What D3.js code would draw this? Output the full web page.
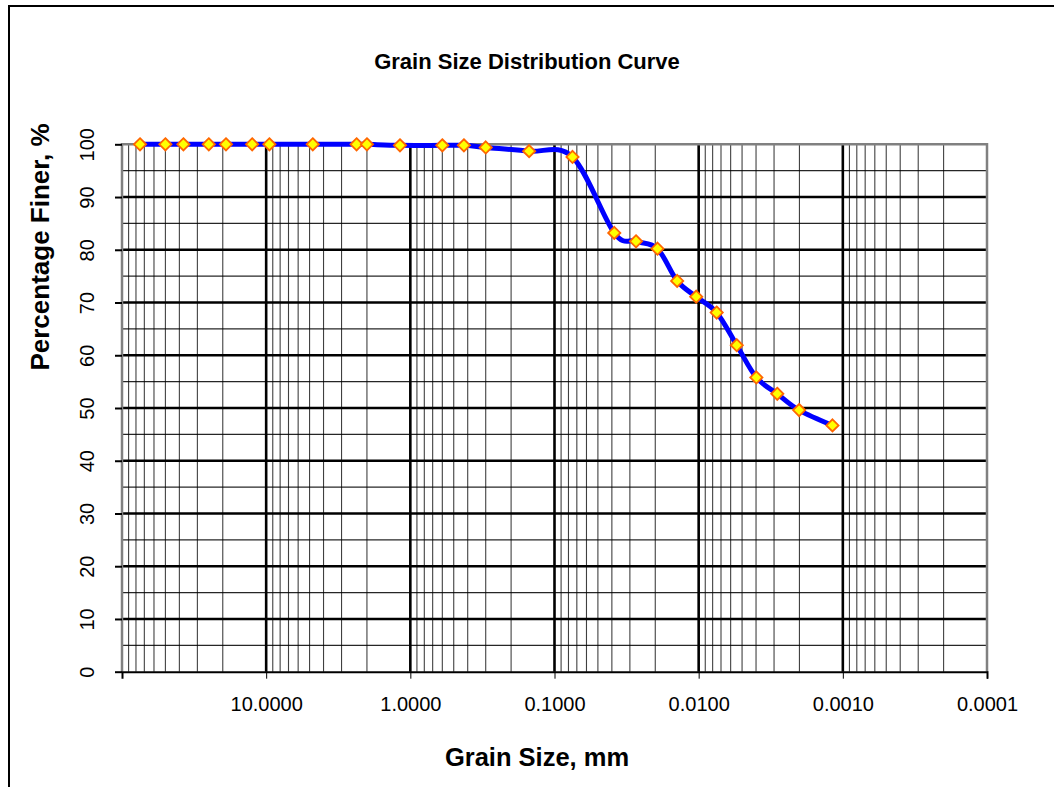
<!DOCTYPE html>
<html>
<head>
<meta charset="utf-8">
<script src="https://cdn.jsdelivr.net/npm/d3@7"></script>
<style>
body { margin: 0; background: #fff; }
text { font-family: Arial, "Liberation Sans", sans-serif; }
</style>
</head>
<body>
<div id="chart"></div>
<script>
//grain sizes (mm) and percent finer
var grainSize = [75, 50, 37.5, 25, 19, 12.5, 9.5, 4.75, 2.36, 2.0, 1.18, 0.6, 0.425, 0.3, 0.15, 0.075,
	0.0385, 0.0272, 0.0193, 0.0141, 0.0104, 0.0075, 0.00544, 0.00398, 0.00285, 0.00201, 0.00118];
var percentFiner = [100, 100, 100, 100, 100, 100, 100, 100, 100, 100, 99.8, 99.8, 99.8, 99.4, 98.7, 97.6,
	83.2, 81.6, 80.2, 74.1, 71.1, 68.1, 61.9, 55.8, 52.7, 49.6, 46.7];

//axis ticks
var xTicks = [10, 1, 0.1, 0.01, 0.001, 0.0001];
var yTicks = [0, 10, 20, 30, 40, 50, 60, 70, 80, 90, 100];

var width = 1054,
	height = 787;

//plot area
var plot = { left: 122, top: 144.3, right: 987, bottom: 671.7 };

var svg = d3.select("#chart").append("svg")
	.attr("width", width)
	.attr("height", height);

//outer chart frame (runs off the picture to the right and bottom)
svg.append("rect")
	.attr("x", 9).attr("y", 6)
	.attr("width", 1100).attr("height", 900)
	.attr("fill", "none")
	.attr("stroke", "#000")
	.attr("stroke-width", 2);

//scales - x is reversed log
var x = d3.scaleLog()
	.domain([100, 0.0001])
	.range([plot.left, plot.right]);

var y = d3.scaleLinear()
	.domain([0, 100])
	.range([plot.bottom, plot.top]);

///////////////////////////////////////////////////////////////////////////
///////////////////////////// Gridlines ///////////////////////////////////
///////////////////////////////////////////////////////////////////////////

var grid = svg.append("g");

//minor vertical lines: 2..9 of every decade
var minorX = [];
[10, 1, 0.1, 0.01, 0.001, 0.0001].forEach(function(d) {
	for (var k = 2; k <= 9; k++) minorX.push(d * k);
});

grid.selectAll(".minor-x")
	.data(minorX)
	.enter().append("line")
	.attr("x1", function(d) { return x(d); })
	.attr("x2", function(d) { return x(d); })
	.attr("y1", y(0)).attr("y2", y(100))
	.attr("stroke", "#000")
	.attr("stroke-width", 1.1)
	.attr("stroke-opacity", 0.75);

//minor horizontal lines at the fives
var minorY = d3.range(5, 100, 10);
grid.selectAll(".minor-y")
	.data(minorY)
	.enter().append("line")
	.attr("x1", plot.left).attr("x2", plot.right)
	.attr("y1", function(d) { return y(d); })
	.attr("y2", function(d) { return y(d); })
	.attr("stroke", "#000")
	.attr("stroke-width", 1.2)
	.attr("stroke-opacity", 0.85);

//major vertical lines at decades
grid.selectAll(".major-x")
	.data([10, 1, 0.1, 0.01, 0.001])
	.enter().append("line")
	.attr("x1", function(d) { return x(d); })
	.attr("x2", function(d) { return x(d); })
	.attr("y1", y(0)).attr("y2", y(100))
	.attr("stroke", "#000")
	.attr("stroke-width", 2.6);

//major horizontal lines
grid.selectAll(".major-y")
	.data(d3.range(10, 100, 10))
	.enter().append("line")
	.attr("x1", plot.left).attr("x2", plot.right)
	.attr("y1", function(d) { return y(d); })
	.attr("y2", function(d) { return y(d); })
	.attr("stroke", "#000")
	.attr("stroke-width", 2.4);

//plot area border (grey on top, left and right)
svg.append("path")
	.attr("d", "M" + plot.left + "," + plot.bottom + "V" + plot.top + "H" + plot.right + "V" + plot.bottom)
	.attr("fill", "none")
	.attr("stroke", "#808080")
	.attr("stroke-width", 2.5);

///////////////////////////////////////////////////////////////////////////
/////////////////////////////// Axes //////////////////////////////////////
///////////////////////////////////////////////////////////////////////////

var xAxis = svg.append("g")
	.attr("transform", "translate(0," + plot.bottom + ")")
	.call(d3.axisBottom(x)
		.tickValues(xTicks)
		.tickSize(7)
		.tickPadding(18)
		.tickFormat(d3.format(".4f")));

xAxis.select(".domain").attr("stroke", "#000").attr("stroke-width", 2);
xAxis.selectAll("line").attr("stroke", "#000").attr("stroke-width", 1);
xAxis.selectAll("text")
	.attr("font-size", 20)
	.attr("fill", "#000");

var yAxis = svg.append("g")
	.attr("transform", "translate(" + plot.left + ",0)")
	.call(d3.axisLeft(y)
		.tickValues(yTicks)
		.tickSize(7)
		.tickSizeOuter(0));

yAxis.select(".domain").remove();
yAxis.selectAll("line").attr("stroke", "#000").attr("stroke-width", 2);
//y tick labels are written vertically
yAxis.selectAll("text")
	.attr("x", null).attr("dy", null)
	.attr("text-anchor", "middle")
	.attr("transform", "translate(-35,0) rotate(-90)")
	.attr("dy", "0.35em")
	.attr("font-size", 20)
	.attr("fill", "#000");

//titles
svg.append("text")
	.attr("x", 527).attr("y", 69)
	.attr("text-anchor", "middle")
	.attr("font-size", 22)
	.attr("font-weight", "bold")
	.text("Grain Size Distribution Curve");

svg.append("text")
	.attr("x", 537).attr("y", 766)
	.attr("text-anchor", "middle")
	.attr("font-size", 25.5)
	.attr("font-weight", "bold")
	.text("Grain Size, mm");

svg.append("text")
	.attr("transform", "translate(49," + 247 + ") rotate(-90)")
	.attr("text-anchor", "middle")
	.attr("font-size", 26)
	.attr("font-weight", "bold")
	.text("Percentage Finer, %");

///////////////////////////////////////////////////////////////////////////
//////////////////////////// Data series //////////////////////////////////
///////////////////////////////////////////////////////////////////////////

var data = grainSize.map(function(d, i) { return { size: d, pct: percentFiner[i] }; });

var line = d3.line()
	.x(function(d) { return x(d.size); })
	.y(function(d) { return y(d.pct); })
	.curve(d3.curveCardinal.tension(0));

svg.append("path")
	.datum(data)
	.attr("d", line)
	.attr("fill", "none")
	.attr("stroke", "#0000FF")
	.attr("stroke-width", 5)
	.attr("stroke-linejoin", "round");

svg.selectAll(".marker")
	.data(data)
	.enter().append("path")
	.attr("class", "marker")
	.attr("d", d3.symbol().type(d3.symbolDiamond2).size(95))
	.attr("transform", function(d) { return "translate(" + x(d.size) + "," + y(d.pct) + ")"; })
	.attr("fill", "#FFFF00")
	.attr("stroke", "#FF6600")
	.attr("stroke-width", 1.8);
</script>
</body>
</html>
